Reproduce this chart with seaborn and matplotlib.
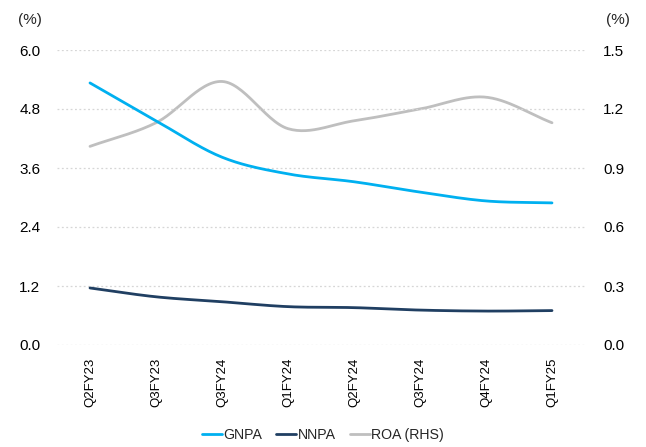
import numpy as np
import pandas as pd
import matplotlib
matplotlib.use("Agg")
import matplotlib.pyplot as plt
import seaborn as sns

quarters = ["Q2FY23", "Q3FY23", "Q3FY24", "Q1FY24", "Q2FY24", "Q3FY24", "Q4FY24", "Q1FY25"]
gnpa = [5.33, 4.56, 3.82, 3.48, 3.32, 3.11, 2.93, 2.89]
nnpa = [1.16, 0.98, 0.88, 0.78, 0.76, 0.71, 0.69, 0.70]
roa = [1.01, 1.13, 1.34, 1.10, 1.14, 1.20, 1.26, 1.13]

left_ticks = [0.0, 1.2, 2.4, 3.6, 4.8, 6.0]
right_ticks = [0.0, 0.3, 0.6, 0.9, 1.2, 1.5]

sns.set_theme(style="white")
plt.rcParams["font.family"] = ["Liberation Sans", "DejaVu Sans"]
FS = 11


def smooth(values, n=30):
    """Catmull-Rom curve through the points, like a smoothed spreadsheet line."""
    y = np.asarray(values, dtype=float)
    x = np.arange(len(y), dtype=float)
    px = np.concatenate([[2 * x[0] - x[1]], x, [2 * x[-1] - x[-2]]])
    py = np.concatenate([[2 * y[0] - y[1]], y, [2 * y[-1] - y[-2]]])
    xs, ys = [], []
    t = np.linspace(0, 1, n, endpoint=False)
    for i in range(1, len(px) - 2):
        p0, p1, p2, p3 = py[i - 1], py[i], py[i + 1], py[i + 2]
        q0, q1, q2, q3 = px[i - 1], px[i], px[i + 1], px[i + 2]
        f = lambda a0, a1, a2, a3: 0.5 * ((2 * a1) + (-a0 + a2) * t
                                         + (2 * a0 - 5 * a1 + 4 * a2 - a3) * t ** 2
                                         + (-a0 + 3 * a1 - 3 * a2 + a3) * t ** 3)
        xs.append(f(q0, q1, q2, q3))
        ys.append(f(p0, p1, p2, p3))
    xs.append([x[-1]])
    ys.append([y[-1]])
    return np.concatenate(xs), np.concatenate(ys)


fig = plt.figure(figsize=(6.46, 4.47), dpi=100)
ax = fig.add_axes([57 / 646, 1 - 345 / 447, 528 / 646, 295 / 447])
ax2 = ax.twinx()

c_gnpa, c_nnpa, c_roa = "#00B0F0", "#203F62", "#BFBFBF"
lw = 2.0

for vals, col, name, axis in [(roa, c_roa, "ROA (RHS)", ax2),
                               (gnpa, c_gnpa, "GNPA", ax),
                               (nnpa, c_nnpa, "NNPA", ax)]:
    sx, sy = smooth(vals)
    df = pd.DataFrame({"x": sx, "y": sy})
    sns.lineplot(data=df, x="x", y="y", ax=axis, color=col, lw=lw,
                 sort=False, estimator=None, label=name, legend=False)

ax2.set_zorder(0)
ax.set_zorder(1)
ax.patch.set_visible(False)

ax.set_xlim(-0.5, 7.5)
ax.set_ylim(0, 6.0)
ax2.set_ylim(0, 1.5)
ax.set_yticks(left_ticks)
ax.set_yticklabels([f"{v:.1f}" for v in left_ticks])
ax2.set_yticks(right_ticks)
ax2.set_yticklabels([f"{v:.1f}" for v in right_ticks])
ax.set_xticks(range(len(quarters)))
ax.set_xticklabels(quarters, rotation=90, va="top", ha="center")
ax.set_xlabel("")
ax.set_ylabel("")
ax2.set_ylabel("")

for a in (ax, ax2):
    for s in a.spines.values():
        s.set_visible(False)
    a.tick_params(axis="both", length=0, labelsize=FS, colors="#000000")
ax.tick_params(axis="x", labelsize=9.5, pad=9)
ax.tick_params(axis="y", pad=12)
ax2.tick_params(axis="y", pad=13)

ax.yaxis.grid(True, linestyle=(0, (1.5, 2)), color="#D6D6D6", lw=0.9)
ax.xaxis.grid(False)
ax2.grid(False)

fig.text(18 / 646, 1 - 20 / 447, "(%)", fontsize=FS, ha="left", va="center")
fig.text(606 / 646, 1 - 20 / 447, "(%)", fontsize=FS, ha="left", va="center")

handles = [plt.Line2D([], [], color=c, lw=lw) for c in (c_gnpa, c_nnpa, c_roa)]
fig.legend(handles, ["GNPA", "NNPA", "ROA (RHS)"], loc="center",
           bbox_to_anchor=(0.50, 1 - 435 / 447), ncol=3, frameon=False,
           fontsize=10.2, handlelength=1.4, handletextpad=0.1, columnspacing=1.0)

fig.savefig("out.png", dpi=100)
